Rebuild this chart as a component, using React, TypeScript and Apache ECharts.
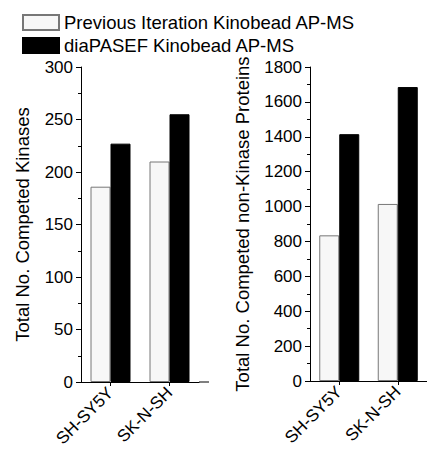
import React, { useEffect, useRef } from "react";
import * as echarts from "echarts";

const categories = ["SH-SY5Y", "SK-N-SH"];
const seriesNames = ["Previous Iteration Kinobead AP-MS", "diaPASEF Kinobead AP-MS"];
const kinasesPrev = [186, 210];
const kinasesDia = [227, 255];
const nonKinasePrev = [835, 1015];
const nonKinaseDia = [1415, 1685];

const FONT = "'Liberation Sans', Arial, Helvetica, sans-serif";

export default function App() {
  const ref = useRef<HTMLDivElement>(null);
  useEffect(() => {
    if (!ref.current) return;
    const chart = echarts.init(ref.current, null, { renderer: "svg" });
    const axisLine = { show: true, lineStyle: { color: "#000", width: 1 } };
    const yAxisCommon = (max: number, interval: number, name: string, gap: number, nameSize: number) => ({
      type: "value",
      min: 0,
      max,
      interval,
      name,
      nameLocation: "middle",
      nameGap: gap,
      nameTextStyle: { color: "#000", fontSize: nameSize, fontFamily: FONT },
      axisLine,
      axisTick: { show: true, inside: false, length: 5, lineStyle: { color: "#000", width: 1 } },
      minorTick: { show: true, splitNumber: 2, length: 3, lineStyle: { color: "#000", width: 1 } },
      splitLine: { show: false },
      axisLabel: {
        color: "#000",
        fontSize: 17,
        fontFamily: FONT,
        margin: 8,
        formatter: (v: number) => String(v),
      },
    });
    const xAxisCommon = (gridIndex: number) => ({
      type: "category",
      gridIndex,
      data: categories,
      axisLine,
      axisTick: { show: true, alignWithLabel: true, length: 4, lineStyle: { color: "#000", width: 1 } },
      axisLabel: { color: "#000", fontSize: 17, fontFamily: FONT, rotate: 45, margin: 8, interval: 0 },
    });
    const prevStyle = { color: "#f7f7f7", borderColor: "#777", borderWidth: 1 };
    const diaStyle = { color: "#000", borderColor: "#000", borderWidth: 1 };
    chart.setOption({
      animation: false,
      textStyle: { fontFamily: FONT },
      legend: {
        orient: "vertical",
        left: 17,
        top: 8,
        itemWidth: 36,
        itemHeight: 15,
        itemGap: 4,
        icon: "rect",
        textStyle: { color: "#000", fontSize: 18.5, fontFamily: FONT },
        data: seriesNames,
      },
      grid: [
        { left: 81, top: 67, width: 118, height: 315 },
        { left: 310, top: 67, width: 117, height: 314 },
      ],
      xAxis: [xAxisCommon(0), xAxisCommon(1)],
      yAxis: [
        { ...yAxisCommon(300, 50, "Total No. Competed Kinases", 49, 18.5), gridIndex: 0 },
        { ...yAxisCommon(1800, 200, "Total No. Competed non-Kinase Proteins", 58, 18.5), gridIndex: 1 },
      ],
      series: [
        { type: "bar", name: seriesNames[0], xAxisIndex: 0, yAxisIndex: 0, data: kinasesPrev, barWidth: 20, barGap: "0%", itemStyle: prevStyle },
        { type: "bar", name: seriesNames[1], xAxisIndex: 0, yAxisIndex: 0, data: kinasesDia, barWidth: 20, barGap: "0%", itemStyle: diaStyle },
        { type: "bar", name: seriesNames[0], xAxisIndex: 1, yAxisIndex: 1, data: nonKinasePrev, barWidth: 20, barGap: "0%", itemStyle: prevStyle },
        { type: "bar", name: seriesNames[1], xAxisIndex: 1, yAxisIndex: 1, data: nonKinaseDia, barWidth: 20, barGap: "0%", itemStyle: diaStyle },
      ],
      graphic: [
        { type: "line", shape: { x1: 199, y1: 382, x2: 209, y2: 382 }, style: { stroke: "#000", lineWidth: 1 } },
      ],
    });
    return () => chart.dispose();
  }, []);
  return <div ref={ref} style={{ width: 427, height: 451, position: "absolute", left: 0, top: 0 }} />;
}
